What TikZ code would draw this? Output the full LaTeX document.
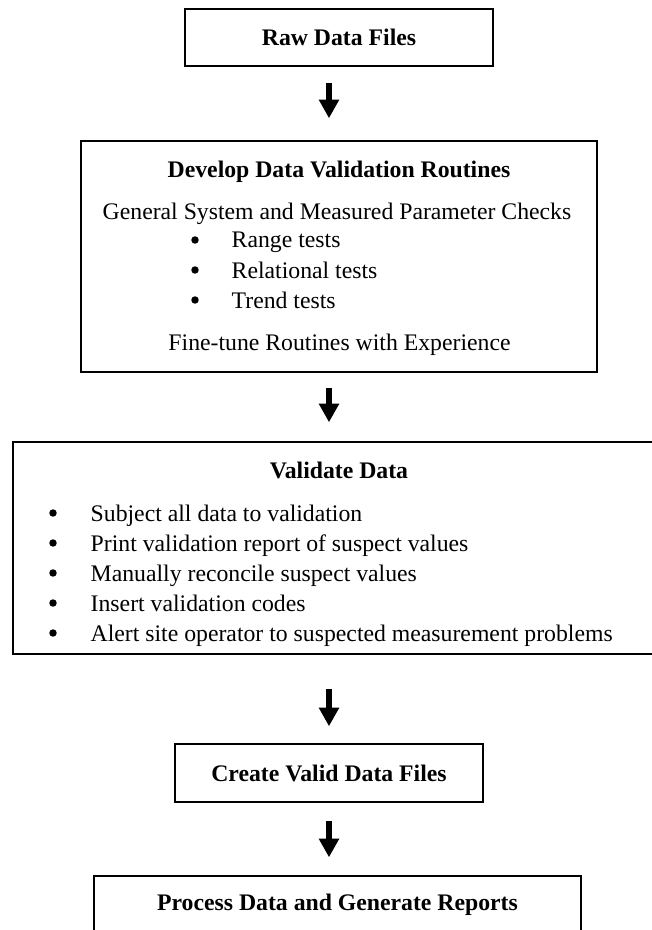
\documentclass[tikz,border=0pt]{standalone}
\usepackage{fontspec}
\setmainfont{Liberation Serif}
\usetikzlibrary{arrows.meta}
\tikzset{
  procbox/.style={draw, line width=1.1pt, inner sep=0pt, font=\fontsize{17.8}{22.5}\selectfont\bfseries},
  head/.style={anchor=base, font=\fontsize{17.8}{22.5}\selectfont\bfseries},
  txt/.style={anchor=base, font=\fontsize{17.8}{22.5}\selectfont},
  itm/.style={anchor=base west, font=\fontsize{17.8}{22.5}\selectfont},
  dot/.style={circle, fill, inner sep=0pt, minimum size=5.6pt},
  flow/.style={line width=4.5pt, -{Triangle[width=14.5pt,length=14pt]}},
}
\begin{document}
\begin{tikzpicture}[x=0.75pt,y=-0.75pt]
            \useasboundingbox (0,0) rectangle (652,930);
            \clip (0,0) rectangle (652,930);

            % Boxy
            \node[procbox, minimum width=231pt, minimum height=42.75pt] (raw) at (339,37.5) {Raw Data Files};
            \node[procbox, minimum width=387pt, minimum height=173.25pt] (dev) at (339,256.5) {};
            \node[procbox, minimum width=500.25pt, minimum height=159pt] (val) at (346.5,548) {};
            \node[procbox, minimum width=231pt, minimum height=43.5pt] (valid) at (329,773) {Create Valid Data Files};
            \node[procbox, minimum width=365.25pt, minimum height=43.5pt] (proc) at (337.5,905) {Process Data and Generate Reports};

            % Texty v boxu dev
            \node[head] (devtitle) at (339,178) {Develop Data Validation Routines};
            \node[txt] (general) at (337,220) {General System and Measured Parameter Checks};
            \foreach \y/\t [count=\i] in {248/Range tests, 278/Relational tests, 308/Trend tests} {
                \node[dot] (devdot\i) at (195,\y-8) {};
                \node[itm] (devitem\i) at (227,\y) {\t};
            }
            \node[txt] (finetune) at (339.5,350) {Fine-tune Routines with Experience};

            % Texty v boxu val
            \node[head] (valtitle) at (339,478) {Validate Data};
            \foreach \y/\t [count=\i] in {521/Subject all data to validation,
                551/Print validation report of suspect values,
                581/Manually reconcile suspect values,
                611/Insert validation codes,
                641/Alert site operator to suspected measurement problems} {
                \node[dot] (valdot\i) at (53,\y-8) {};
                \node[itm] (valitem\i) at (86,\y) {\t};
            }

            % Sipky
            \coordinate (axis) at (329,0);
            \draw[flow, shorten <=12pt, shorten >=16.5pt] (raw.south -| axis) -- (dev.north -| axis);
            \draw[flow, shorten <=11.25pt, shorten >=14.25pt] (dev.south -| axis) -- (val.north -| axis);
            \draw[flow, shorten <=25.5pt, shorten >=12.75pt] (val.south -| axis) -- (valid.north -| axis);
            \draw[flow, shorten <=13.5pt, shorten >=13.5pt] (valid.south -| axis) -- (proc.north -| axis);
        \end{tikzpicture}
\end{document}
